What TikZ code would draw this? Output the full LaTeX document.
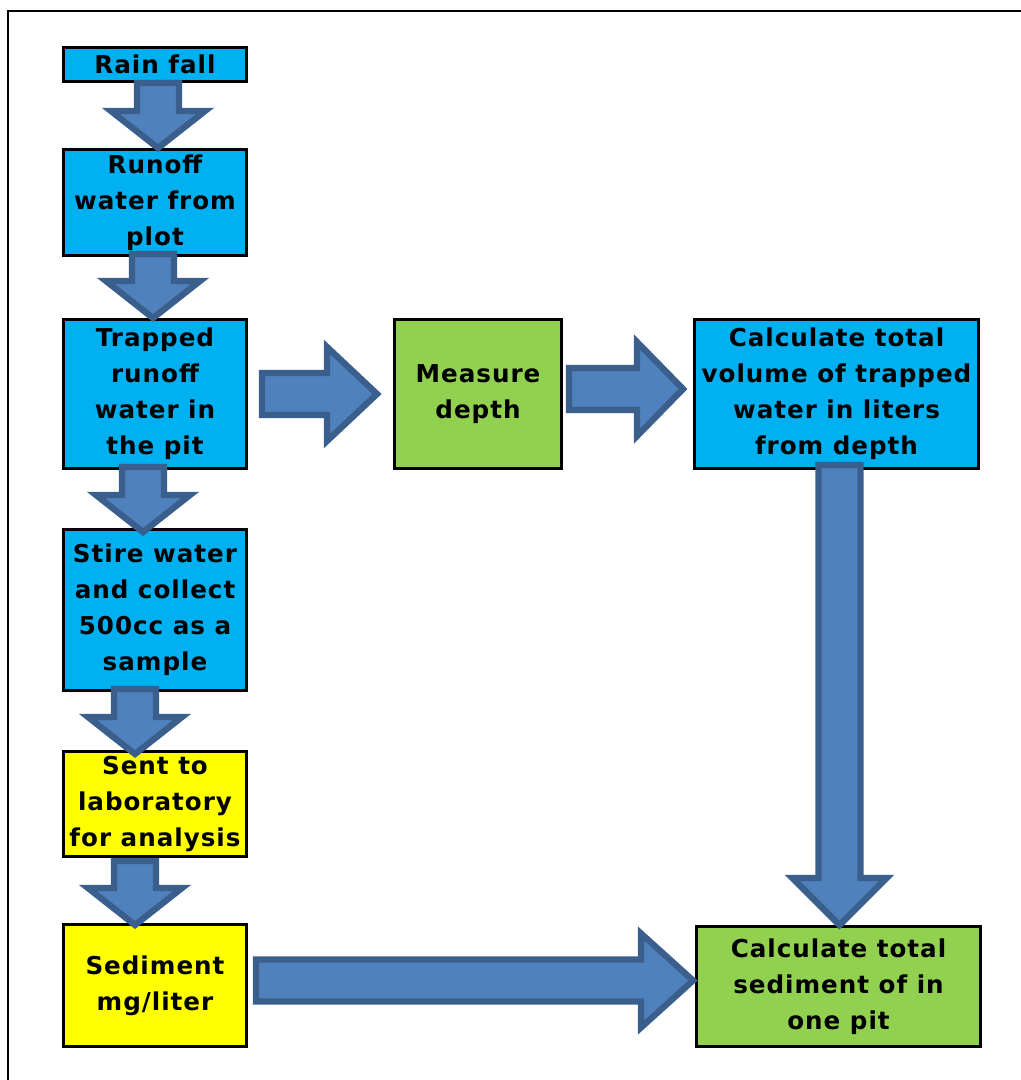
\documentclass[tikz,border=0pt]{standalone}
\usepackage{fontspec}
\setmainfont{DejaVu Sans}[LetterSpace=4]
\usetikzlibrary{calc}

\definecolor{boxblue}{HTML}{00B0F0}
\definecolor{boxgreen}{HTML}{92D050}
\definecolor{boxyellow}{HTML}{FFFF00}
\definecolor{arrowfill}{HTML}{4F81BD}
\definecolor{arrowline}{HTML}{3A5F8D}

\tikzset{
  stepbox/.style={draw=black, line width=1.7pt, align=center, inner sep=0pt,
    font=\bfseries\fontsize{14}{20.5}\selectfont},
  blockarrow/.style={fill=arrowfill, draw=arrowline, line width=3.6pt, line join=miter}
}

% fat arrow from #2 to #3, head length #1
\newcommand{\blockarrow}[3][0.74cm]{%
  \coordinate (ba tail) at (#2);
  \coordinate (ba tip) at (#3);
  \coordinate (ba base) at ($(ba tip)!#1!(ba tail)$);
  \filldraw[blockarrow] ($(ba tail)!0.42cm!90:(ba tip)$) -- ($(ba base)!0.42cm!90:(ba tip)$)
    -- ($(ba base)!0.94cm!90:(ba tip)$) -- (ba tip) -- ($(ba base)!0.94cm!-90:(ba tip)$)
    -- ($(ba base)!0.42cm!-90:(ba tip)$) -- ($(ba tail)!0.42cm!-90:(ba tip)$) -- cycle;
}

\begin{document}
\begin{tikzpicture}[x=0.02cm, y=-0.02cm]
  \useasboundingbox (0,0) rectangle (1021,1080);
  \draw[line width=1.2pt] (8,1080) -- (8,11) -- (1021,11);

  % left column
  \node[stepbox, fill=boxblue, minimum width=3.66cm, minimum height=0.68cm] (rain) at (155,64.5) {Rain fall};
  \node[stepbox, fill=boxblue, minimum width=3.66cm, minimum height=2.12cm] (runoff) at (155,202.5) {Runoff\\water from\\plot};
  \node[stepbox, fill=boxblue, minimum width=3.66cm, minimum height=2.98cm] (trapped) at (155,394) {Trapped\\runoff\\water in\\the pit};
  \node[stepbox, fill=boxblue, minimum width=3.66cm, minimum height=3.22cm] (stir) at (155,610) {Stire water\\and collect\\500cc as a\\sample};
  \node[stepbox, fill=boxyellow, minimum width=3.66cm, minimum height=2.10cm] (lab) at (155,804) {Sent to\\laboratory\\for analysis};
  \node[stepbox, fill=boxyellow, minimum width=3.66cm, minimum height=2.44cm] (sediment) at (155,985.5) {Sediment\\mg/liter};

  % middle and right
  \node[stepbox, fill=boxgreen, minimum width=3.34cm, minimum height=2.98cm] (depth) at (478,394) {Measure\\depth};
  \node[stepbox, fill=boxblue, minimum width=5.68cm, minimum height=2.98cm] (volume) at (836.5,394) {Calculate total\\volume of trapped\\water in liters\\from depth};
  \node[stepbox, fill=boxgreen, minimum width=5.68cm, minimum height=2.40cm] (total) at (838.5,986.5) {Calculate total\\sediment of in\\one pit};

  \blockarrow{$(rain.south)+(3,0)$}{$(runoff.north)+(3,0)$}
  \blockarrow{$(runoff.south)+(-2,-3)$}{$(trapped.north)+(-2,0)$}
  \blockarrow{$(trapped.south)+(-12,-3)$}{$(stir.north)+(-12,4)$}
  \blockarrow{$(stir.south)+(-20,-3)$}{$(lab.north)+(-20,4)$}
  \blockarrow{$(lab.south)+(-20,3)$}{$(sediment.north)+(-20,2)$}
  \blockarrow[1.0cm]{$(trapped.east)+(14,0)$}{$(depth.west)+(-16,0)$}
  \blockarrow[0.92cm]{$(depth.east)+(6,-5)$}{$(volume.west)+(-10,-5)$}
  \blockarrow[0.94cm]{$(volume.south)+(3,-5)$}{$(total.north)+(1,0)$}
  \blockarrow[1.04cm]{$(sediment.east)+(8,-5)$}{$(total.west)+(-2,-6)$}
\end{tikzpicture}
\end{document}
